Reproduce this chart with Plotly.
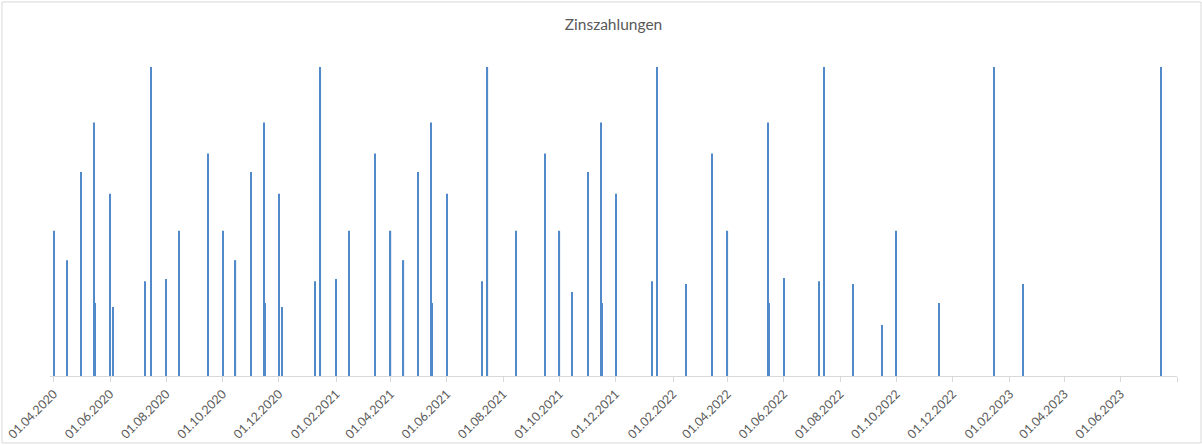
"""
Zinszahlungen - interest payments by date, drawn as thin bars on a date axis.
"""

import plotly.graph_objects as go
import pandas as pd

# payment dates and amounts (heights, max = 100)
pay_dates = [
    "2020-04-01", "2020-04-15", "2020-05-01", "2020-05-15", "2020-05-16",
    "2020-06-01", "2020-06-04", "2020-07-09", "2020-07-15", "2020-08-01",
    "2020-08-15", "2020-09-15", "2020-10-01", "2020-10-15", "2020-11-01",
    "2020-11-15", "2020-11-16", "2020-12-01", "2020-12-04", "2021-01-09",
    "2021-01-15", "2021-02-01", "2021-02-15", "2021-03-15", "2021-04-01",
    "2021-04-15", "2021-05-01", "2021-05-15", "2021-05-16", "2021-06-01",
    "2021-07-09", "2021-07-15", "2021-08-15", "2021-09-15", "2021-10-01",
    "2021-10-15", "2021-11-01", "2021-11-15", "2021-11-16", "2021-12-01",
    "2022-01-09", "2022-01-15", "2022-02-15", "2022-03-15", "2022-04-01",
    "2022-05-15", "2022-05-16", "2022-06-01", "2022-07-09", "2022-07-15",
    "2022-08-15", "2022-09-15", "2022-10-01", "2022-11-16", "2023-01-15",
    "2023-02-15", "2023-07-15",
]
pay_amounts = [
    47, 37.5, 66, 82, 23.6,
    59, 22.3, 30.7, 100, 31.4,
    47, 72, 47, 37.5, 66,
    82, 23.6, 59, 22.3, 30.7,
    100, 31.4, 47, 72, 47,
    37.5, 66, 82, 23.6, 59,
    30.7, 100, 47, 72, 47,
    27.2, 66, 82, 23.6, 59,
    30.7, 100, 29.8, 72, 47,
    82, 23.6, 31.7, 30.7, 100,
    29.8, 16.5, 47, 23.6, 100,
    29.8, 100,
]

tick_dates = [
    "2020-04-01", "2020-06-01", "2020-08-01", "2020-10-01", "2020-12-01",
    "2021-02-01", "2021-04-01", "2021-06-01", "2021-08-01", "2021-10-01",
    "2021-12-01", "2022-02-01", "2022-04-01", "2022-06-01", "2022-08-01",
    "2022-10-01", "2022-12-01", "2023-02-01", "2023-04-01", "2023-06-01",
    "2023-08-01",
]
tick_labels = [pd.Timestamp(d).strftime("%d.%m.%Y") for d in tick_dates[:-1]] + [""]

DAY_MS = 86400000
FONT = "Lato, 'Open Sans', sans-serif"
GREY_TEXT = "#595959"
AXIS_GREY = "#D9D9D9"

fig = go.Figure(go.Bar(
    x=pd.to_datetime(pay_dates),
    y=pay_amounts,
    width=[1.3 * DAY_MS] * len(pay_dates),
    marker=dict(color="#5289C8", line=dict(width=0)),
    hovertemplate="%{x|%d.%m.%Y}: %{y}<extra></extra>",
))

fig.update_layout(
    width=1202,
    height=445,
    autosize=False,
    margin=dict(l=50, r=25, t=67, b=69, autoexpand=False),
    paper_bgcolor="white",
    plot_bgcolor="white",
    showlegend=False,
    font=dict(family=FONT, color=GREY_TEXT),
    title=dict(
        text="Zinszahlungen",
        x=0.5,
        xref="paper",
        xanchor="center",
        y=0.945,
        yref="container",
        yanchor="middle",
        automargin=False,
        font=dict(size=15.5, color=GREY_TEXT, family=FONT),
    ),
    xaxis=dict(
        type="date",
        range=["2020-03-28", "2023-08-01"],
        tickmode="array",
        tickvals=tick_dates,
        ticktext=tick_labels,
        tickangle=-45,
        automargin=False,
        tickfont=dict(size=12.3, color=GREY_TEXT, family=FONT),
        ticks="outside",
        ticklen=5,
        tickcolor=AXIS_GREY,
        showline=True,
        linecolor=AXIS_GREY,
        linewidth=1,
        showgrid=False,
        zeroline=False,
        fixedrange=True,
    ),
    yaxis=dict(
        range=[0, 100],
        visible=False,
        automargin=False,
        fixedrange=True,
    ),
    # light chart-area frame like the spreadsheet chart border
    shapes=[dict(
        type="rect",
        xref="paper",
        yref="paper",
        x0=-0.0426,
        x1=1.0213,
        y0=-0.2168,
        y1=1.2104,
        line=dict(color=AXIS_GREY, width=1),
        fillcolor="rgba(0,0,0,0)",
        layer="below",
    )],
)

fig.write_html(
    "out.html",
    config={"displayModeBar": False},
    post_script="document.body.style.margin='0';document.body.style.overflow='hidden';",
)
